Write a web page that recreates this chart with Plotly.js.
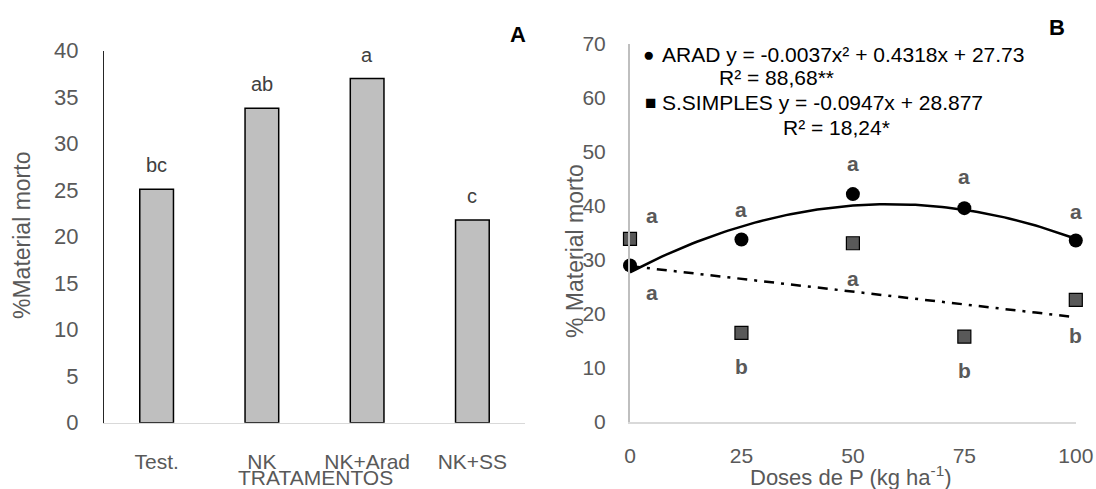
<!DOCTYPE html>
<html>
<head>
<meta charset="utf-8">
<script src="https://cdn.plot.ly/plotly-3.0.1.min.js"></script>
<style>html,body{margin:0;padding:0;background:#fff}#chart{width:1096px;height:489px}</style>
</head>
<body>
<div id="chart"></div>
<script>
// ---- Panel A data ----
const categories = ['Test.', 'NK', 'NK+Arad', 'NK+SS'];
const barValues = [25.1, 33.8, 37.0, 21.8];
const barLetters = ['bc', 'ab', 'a', 'c'];

// ---- Panel B data ----
const doses = [0, 25, 50, 75, 100];
const aradValues = [29.0, 33.8, 42.2, 39.6, 33.6];
const ssValues = [33.9, 16.5, 33.1, 15.8, 22.6];
const aradLetters = ['a', 'a', 'a', 'a', 'a'];
const ssLetters = ['a', 'b', 'a', 'b', 'b'];
const aradLetterY = [38.3, 39.4, 47.8, 45.4, 39.0];
const ssLetterY = [23.9, 10.2, 26.6, 9.6, 16.1];
const aradCoef = [-0.0037, 0.4318, 27.73];   // quadratic trend from the chart equation
const ssCoef = [-0.0947, 28.877];           // linear trend from the chart equation

const FONT = 'Liberation Sans, Arial, sans-serif';
const GREY = '#595959';

const trendX = [];
for (let x = 0; x <= 100; x += 1) trendX.push(x);
const aradTrend = trendX.map(x => aradCoef[0]*x*x + aradCoef[1]*x + aradCoef[2]);
const ssTrend = trendX.map(x => ssCoef[0]*x + ssCoef[1]);

const traces = [
  {type: 'bar', x: categories, y: barValues, xaxis: 'x', yaxis: 'y', width: 0.32,
   marker: {color: '#bfbfbf', line: {color: '#000', width: 1.5}}, showlegend: false, hoverinfo: 'x+y'},
  {type: 'scatter', mode: 'lines', x: trendX, y: aradTrend, xaxis: 'x2', yaxis: 'y2',
   line: {color: '#000', width: 2.5}, showlegend: false},
  {type: 'scatter', mode: 'lines', x: trendX, y: ssTrend, xaxis: 'x2', yaxis: 'y2',
   line: {color: '#000', width: 2.5, dash: '10px,7px,3px,7px'}, showlegend: false},
  {type: 'scatter', mode: 'markers', x: doses, y: ssValues, xaxis: 'x2', yaxis: 'y2', cliponaxis: false,
   marker: {symbol: 'square', size: 13, color: '#595959', line: {color: '#000', width: 1.2}}, showlegend: false},
  {type: 'scatter', mode: 'markers', x: doses, y: aradValues, xaxis: 'x2', yaxis: 'y2', cliponaxis: false,
   marker: {symbol: 'circle', size: 14, color: '#000'}, showlegend: false}
];

function paperNote(px, py, text, font, extra) {
  return Object.assign({xref: 'paper', yref: 'paper', x: px/1096, y: 1 - py/489, text: text,
    showarrow: false, xanchor: 'center', yanchor: 'middle', font: font}, extra || {});
}

const annotations = [];
// bar letters
categories.forEach((c, i) => annotations.push({
  xref: 'x', yref: 'y', x: c, y: barValues[i], text: barLetters[i], showarrow: false,
  xanchor: 'center', yanchor: 'middle', yshift: 24, font: {family: FONT, size: 20, color: '#404040'}
}));
// panel B letters
doses.forEach((d, i) => {
  const xs = d === 0 ? 4.9 : d;
  annotations.push({xref: 'x2', yref: 'y2', x: xs, y: aradLetterY[i], text: aradLetters[i], showarrow: false,
    xanchor: 'center', yanchor: 'middle', font: {family: FONT, size: 21, color: GREY, weight: 'bold'}});
  annotations.push({xref: 'x2', yref: 'y2', x: xs, y: ssLetterY[i], text: ssLetters[i], showarrow: false,
    xanchor: 'center', yanchor: 'middle', font: {family: FONT, size: 21, color: GREY, weight: 'bold'}});
});
// panel labels
annotations.push(paperNote(518, 34, 'A', {family: FONT, size: 22, color: '#000', weight: 'bold'}));
annotations.push(paperNote(1057, 27, 'B', {family: FONT, size: 22, color: '#000', weight: 'bold'}));
// axis titles
annotations.push(paperNote(22, 236, '%Material morto', {family: FONT, size: 23, color: GREY}, {textangle: -90}));
annotations.push(paperNote(315, 477, 'TRATAMENTOS', {family: FONT, size: 21, color: GREY}));
annotations.push(paperNote(575, 251, '% Material morto', {family: FONT, size: 23, color: GREY}, {textangle: -90}));
annotations.push(paperNote(851, 476, 'Doses de P (kg ha<sup>-1</sup>)', {family: FONT, size: 22, color: GREY}));
// legend text
const legFont = {family: FONT, size: 21, color: '#000'};
annotations.push(paperNote(648, 55, '●', {family: FONT, size: 19, color: '#000'}));
annotations.push(paperNote(660, 55, 'ARAD y = -0.0037x² + 0.4318x + 27.73', legFont, {xanchor: 'left'}));
annotations.push(paperNote(776, 78, 'R² = 88,68**', legFont));
annotations.push(paperNote(650, 103, '■', {family: FONT, size: 19, color: '#000'}));
annotations.push(paperNote(660, 103, 'S.SIMPLES y = -0.0947x + 28.877', legFont, {xanchor: 'left'}));
annotations.push(paperNote(836, 127, 'R² = 18,24*', legFont));

const layout = {
  width: 1096, height: 489,
  margin: {l: 0, r: 0, t: 0, b: 0},
  paper_bgcolor: '#fff', plot_bgcolor: '#fff',
  showlegend: false,
  font: {family: FONT, color: GREY},
  xaxis: {domain: [104/1096, 525/1096], anchor: 'y', type: 'category', range: [-0.5, 3.5],
    showgrid: false, zeroline: false, showline: true, linecolor: '#d9d9d9', linewidth: 1.3,
    ticks: '', ticklabelstandoff: 20, tickfont: {family: FONT, size: 21, color: GREY}, fixedrange: true},
  yaxis: {domain: [1 - 422.7/489, 1 - 50.7/489], anchor: 'x', range: [0, 40], dtick: 5,
    showgrid: false, zeroline: false, showline: true, linecolor: '#262626', linewidth: 1.2,
    ticks: '', ticklabelstandoff: 20, tickfont: {family: FONT, size: 22, color: GREY}, fixedrange: true},
  xaxis2: {domain: [630/1096, 1075.8/1096], anchor: 'y2', range: [0, 100], tickvals: doses,
    showgrid: false, zeroline: false, showline: true, linecolor: '#d9d9d9', linewidth: 1.5,
    ticks: '', ticklabelstandoff: 14, tickfont: {family: FONT, size: 21, color: GREY}, fixedrange: true},
  yaxis2: {domain: [1 - 422/489, 1 - 44/489], anchor: 'x2', range: [0, 70], dtick: 10,
    showgrid: false, zeroline: false, showline: true, linecolor: '#bfbfbf', linewidth: 2,
    ticks: '', ticklabelstandoff: 18, tickfont: {family: FONT, size: 21, color: GREY}, fixedrange: true},
  annotations: annotations
};

Plotly.newPlot('chart', traces, layout, {displayModeBar: false, staticPlot: true});
</script>
</body>
</html>
